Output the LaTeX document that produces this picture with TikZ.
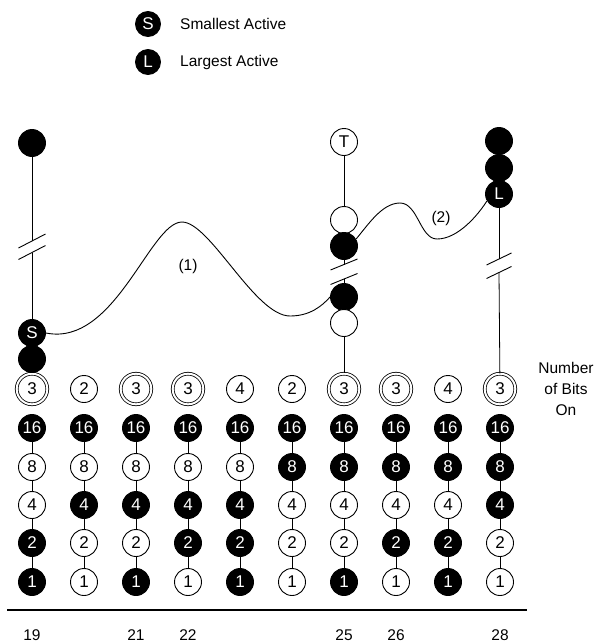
\documentclass[tikz,border=0pt]{standalone}
\usepackage{fontspec}
\setmainfont{Liberation Sans}
\begin{document}
\begin{tikzpicture}[x=1pt,y=-1pt,
  bit/.style={circle, draw=black, line width=0.9pt, minimum size=27pt, inner sep=0pt,
    font=\fontsize{17}{17}\selectfont},
  bon/.style={bit, fill=black, text=white},
  boff/.style={bit, fill=white, text=black},
  sgl/.style={bit, fill=white},
  dbl/.style={circle, draw=black, line width=0.8pt, double=white, double distance=2pt,
    minimum size=30.6pt, inner sep=0pt, font=\fontsize{17}{17}\selectfont},
  legdot/.style={bon, minimum size=25pt},
  conn/.style={line width=0.8pt},
  wave/.style={line width=0.9pt},
  brk/.style={line width=0.9pt},
  lbl/.style={font=\fontsize{15.5}{18}\selectfont, inner sep=0pt}
]
\useasboundingbox (0,0) rectangle (595,643);

% legend
\node[legdot] (legS) at (148,24) {S};
\node[lbl, anchor=west] (legSt) at (180,24) {Smallest Active};
\node[legdot] (legL) at (148,62) {L};
\node[lbl, anchor=west] (legLt) at (180,62) {Largest Active};

% bit columns: count of bits on, then 16, 8, 4, 2, 1
\foreach \i/\n/\cs/\pa/\pb/\pc/\pd/\pe in {
  1/3/dbl/bon/boff/boff/bon/bon,
  2/2/sgl/bon/boff/bon/boff/boff,
  3/3/dbl/bon/boff/bon/boff/bon,
  4/3/dbl/bon/boff/bon/bon/boff,
  5/4/sgl/bon/boff/bon/bon/bon,
  6/2/sgl/bon/bon/boff/boff/boff,
  7/3/dbl/bon/bon/boff/boff/bon,
  8/3/dbl/bon/bon/boff/bon/boff,
  9/4/sgl/bon/bon/boff/bon/bon,
  10/3/dbl/bon/bon/bon/boff/boff}{
  \pgfmathsetmacro{\cx}{32+52*(\i-1)}
  \node[\cs] (n\i) at (\cx,389) {\n};
  \node[\pa] (pa\i) at (\cx,428) {16};
  \node[\pb] (pb\i) at (\cx,467) {8};
  \node[\pc] (pc\i) at (\cx,505) {4};
  \node[\pd] (pd\i) at (\cx,543) {2};
  \node[\pe] (pe\i) at (\cx,582) {1};
  \draw[conn] (pa\i) -- (pb\i) -- (pc\i) -- (pd\i) -- (pe\i);
}

% column 19
\node[bon] (t1) at (32,143) {};
\node[bon] (S) at (32,333) {S};
\node[bon] (s2) at (32,359) {};
\coordinate (b1a) at (32,241);
\coordinate (b1b) at (32,252.5);
\draw[conn] (t1) -- (b1a);
\draw[conn] (b1b) -- (S);
\draw[brk] ([shift={(-13.5,7)}]b1a) -- ([shift={(13.5,-7)}]b1a);
\draw[brk] ([shift={(-13.5,7)}]b1b) -- ([shift={(13.5,-7)}]b1b);

% column 25
\node[boff] (T) at (344,142) {T};
\node[boff] (w1) at (344,220) {};
\node[bon] (k1) at (344,246) {};
\node[bon] (k2) at (344,297) {};
\node[boff] (w2) at (344,323) {};
\coordinate (b7a) at (344,264.5);
\coordinate (b7b) at (344,279);
\draw[conn] (T) -- (w1);
\draw[conn] (k1) -- (b7a);
\draw[conn] (b7b) -- (k2);
\draw[conn] (w2) -- (n7);
\draw[brk] ([shift={(-13.5,5.5)}]b7a) -- ([shift={(13.5,-5.5)}]b7a);
\draw[brk] ([shift={(-13.5,5.5)}]b7b) -- ([shift={(13.5,-5.5)}]b7b);

% column 28
\node[bon] (u1) at (499,141) {};
\node[bon] (u2) at (499,168) {};
\node[bon] (L) at (499,194) {L};
\coordinate (b10a) at (499,259);
\coordinate (b10b) at (499,272.5);
\draw[conn] (L) -- (b10a);
\draw[conn] (b10b) -- (n10);
\draw[brk] ([shift={(-12.5,6)}]b10a) -- ([shift={(12.5,-6)}]b10a);
\draw[brk] ([shift={(-12.5,6)}]b10b) -- ([shift={(12.5,-6)}]b10b);

% search paths
\draw[wave] (S.east) .. controls (115,347) and (150,222) .. (182,222)
  .. controls (210,222) and (255,316) .. (290,316)
  .. controls (310,316) and (322,306) .. (k2.west);
\node[lbl] (lab1) at (188,266) {(1)};
\draw[wave] (k1.30) .. controls (368,225) and (382,203) .. (400,203)
  .. controls (418,203) and (420,239) .. (437,239)
  .. controls (458,239) and (478,215) .. (L.210);
\node[lbl] (lab2) at (441,218) {(2)};

% right-hand caption
\node[lbl, align=center, font=\fontsize{15.5}{21}\selectfont] (nbo) at (566,389) {Number\\of Bits\\On};

% axis
\coordinate (ax0) at (7,610);
\coordinate (ax1) at (527,610);
\draw[line width=1.2pt] (ax0) -- (ax1);
\foreach \i/\v in {1/19,3/21,4/22,7/25,8/26,10/28}{
  \node[lbl] (v\i) at (32+52*\i-52,635) {\v};
}
\end{tikzpicture}
\end{document}
